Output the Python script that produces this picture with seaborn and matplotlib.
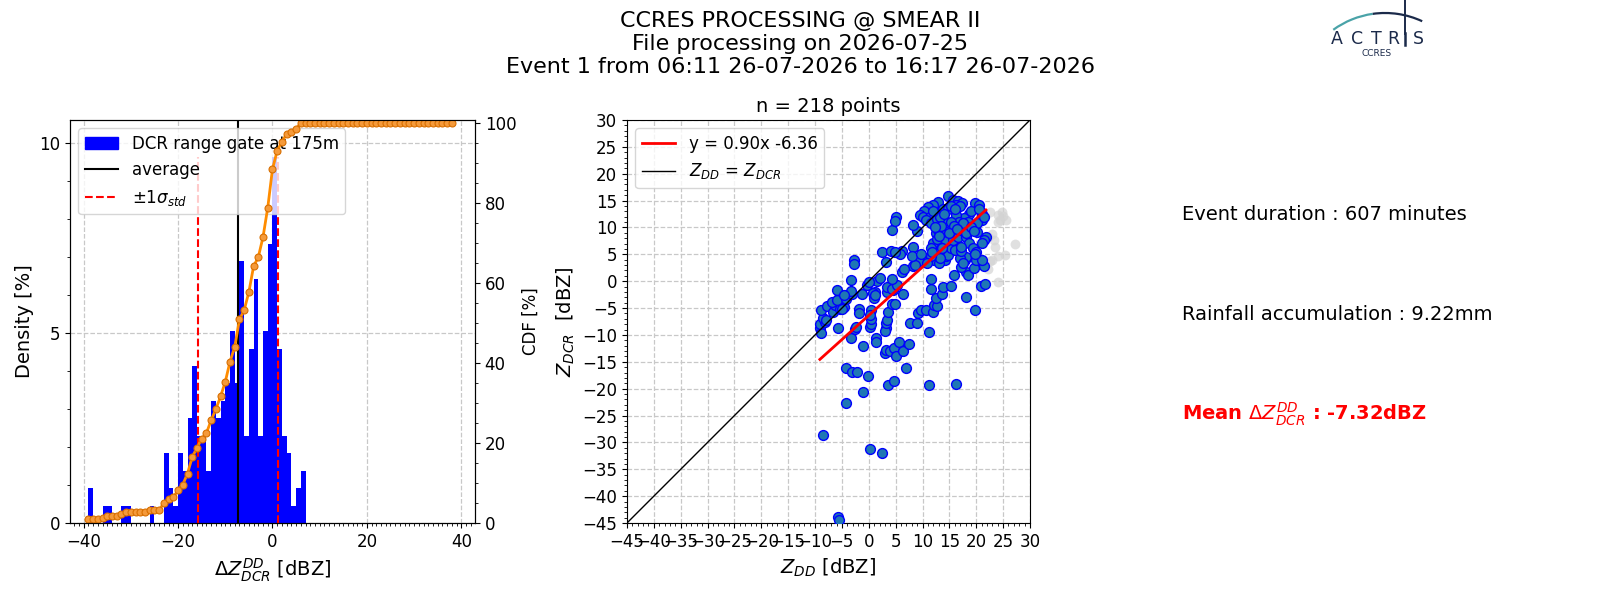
import numpy as np
import pandas as pd
import matplotlib
matplotlib.use("Agg")
import matplotlib.pyplot as plt
import seaborn as sns
from matplotlib.ticker import MultipleLocator
from matplotlib.patches import Patch, Arc
from matplotlib.lines import Line2D

# ---- histogram of delta Z (1 dBZ bins, left edges -39 .. 38) ----
bin_left = np.arange(-39, 39)
hist_counts = [2, 0, 0, 1, 1, 0, 0, 1, 1, 0, 0, 0, 0, 1, 0, 0, 4, 2, 1, 4,
               3, 6, 9, 5, 5, 3, 7, 6, 7, 8, 11, 8, 15, 5, 10, 14, 5, 11, 16, 21,
               10, 5, 4, 1, 2, 3] + [0] * 32
n_points = 218
mean_dz = -7.32
std_dz = 8.4

# ---- scatter Z_DD vs Z_DCR ----
zdd = [-8.5, -5.7, -5.5, 0.3, 2.5, -4.3, -1.1, -0.1, -4.3, -3.2, -2.2, 3.5, 4.6, 11.2, 16.3, 6.9,
       3.0, 3.2, 3.9, 4.7, 5.0, 5.6, 6.3, 7.5, -1.0, -3.4, 1.4, 1.3, -5.7, -9.0, -8.8, -2.6, -2.3,
       0.3, 3.2, 3.0, 11.2,
       -9.1, -8.1, -8.5, 0.5, 0.5, 3.2, 3.4, 0.5, 0.3, -1.8, -1.8, 3.6, 4.3, 7.6, 8.9, 9.2, 9.8,
       10.7, 11.9, 12.2, 12.7, 12.6, 19.7, -8.8, -7.8, -6.7, -6.3, -6.9, -5.5, -5.4, -4.7, -4.4,
       -8.0, -5.0, -5.9, -4.3, 0.9, 4.8, 18.1,
       13.7, -3.2, -1.3, 1.1, 4.5, 3.4, 6.3, -6.0, -3.3, -4.7, -0.4, 0.7, 11.5, 13.9, 15.3, 20.8,
       21.7, 3.3, 4.3, 5.2, 1.2,
       -3.4, 1.6, 0.0, 11.6, 15.9, 18.1, 18.4, 21.4, 19.6, -2.8, -2.8, 3.2, 8.2, 6.1, 6.6, 10.2,
       9.3, 2.1, 4.3, 12.2, 14.1, 14.4, 17.9, 18.1, 20.0, 21.1, 16.9, 17.2, 17.6, 14.7, 13.0,
       13.2, 11.6, 8.6, 10.9,
       2.4, 4.1, 6.1, 5.8, 8.2, 8.1, 9.7, 4.3, 9.0, 11.9, 11.6, 11.8, 12.6, 12.9, 12.7, 15.3,
       16.0, 17.2, 14.4, 15.6, 16.6, 18.1, 18.6, 19.4, 20.0, 21.8, 21.5, 21.1, 20.1, 14.4, 17.2,
       18.0, 19.7, 13.6, 17.2, 4.9,
       5.0, 4.8, 8.2, 14.7, 15.6, 16.6, 17.4, 16.3, 12.9, 11.9, 11.0, 10.2, 9.6, 10.1, 13.8,
       14.7, 15.3, 17.0, 19.7, 20.6, 21.1, 21.0, 20.2, 18.7, 17.7, 18.4, 16.3, 16.8, 17.5, 14.3,
       15.3, 15.8, 11.4, 10.7, 11.6, 12.7, 13.2, 13.5,
       12.0, 14.0, 16.0, 19.0, 20.5, 13.0, 15.0, 16.5, 19.0, 19.5, 12.3, 21.5]
zdcr = [-28.6, -43.9, -44.5, -31.2, -32.0, -22.7, -20.6, -17.6, -16.1, -16.9, -16.9, -19.3, -18.5,
        -19.3, -19.1, -16.1,
        -13.4, -12.8, -12.9, -12.5, -13.9, -11.3, -13.0, -11.7, -12.1, -10.6, -10.6, -11.3, -8.7,
        -8.8, -9.7, -8.9, -8.5, -8.5, -8.8, -9.2, -9.4,
        -7.9, -7.5, -6.9, -7.9, -7.1, -7.7, -7.2, -5.4, -6.3, -5.1, -5.9, -5.7, -4.3, -7.7, -7.7,
        -6.0, -5.4, -5.4, -5.7, -4.4, -4.6, -3.2, -5.4, -5.4, -4.6, -5.7, -4.4, -3.8, -3.2, -5.2,
        -4.8, -3.2, -7.2, -5.1, -3.5, -3.3, -3.2, -4.2, -3.0,
        -2.4, -2.3, -2.3, -2.0, -1.7, -2.1, -2.3, -1.6, -1.9, -2.6, -0.7, -2.2, -1.4, -1.1, -0.9,
        -0.8, -0.6, -1.0, -1.4, -0.7, -2.6,
        0.2, 0.1, -0.2, 0.4, 1.1, 1.7, 1.2, 2.8, 2.5, 4.0, 3.2, 3.5, 2.9, 1.8, 2.2, 4.3, 3.8, 0.6,
        0.4, 4.0, 4.0, 4.7, 4.0, 4.5, 4.0, 4.0, 4.3, 2.7, 3.3, 4.9, 3.3, 4.3, 4.6, 3.0, 3.3,
        5.4, 5.6, 5.7, 5.0, 6.3, 4.7, 5.1, 9.5, 9.4, 7.1, 6.1, 5.5, 9.0, 9.5, 7.8, 6.1, 5.8, 5.6,
        7.4, 7.7, 8.2, 8.2, 7.1, 6.1, 5.5, 8.3, 7.6, 7.1, 9.2, 9.5, 9.5, 8.9, 5.1, 6.1, 6.3, 5.4,
        12.0, 11.2, 10.5, 15.9, 15.2, 15.0, 14.6, 14.2, 14.8, 14.2, 13.8, 13.0, 12.3, 12.0, 13.4,
        13.4, 14.0, 14.0, 14.6, 14.2, 12.6, 11.3, 10.8, 12.6, 11.7, 11.1, 12.3, 11.1, 10.8, 11.1,
        11.1, 10.2, 12.0, 11.4, 10.9, 11.5, 12.0, 10.2,
        13.0, 12.5, 13.5, 13.0, 13.5, 8.5, 9.0, 9.8, 10.0, 9.3, 10.0, 12.0]

# points left out of the comparison (drawn in grey)
excl_zdd = [22.6, 24.0, 24.7, 25.0, 24.4, 25.5, 24.0, 23.3, 22.2, 22.9, 22.2, 23.0, 24.1, 25.3,
            27.3, 24.0, 22.5, 23.4]
excl_zdcr = [12.9, 12.3, 12.9, 12.2, 11.4, 11.4, 11.0, 7.7, 8.3, 8.8, 2.2, 4.0, 4.6, 4.8, 6.9,
             -0.1, 3.7, 6.4]

fit_slope = 0.90
fit_offset = -6.36

title_lines = ["CCRES PROCESSING @ SMEAR II",
               "File processing on 2026-07-25",
               "Event 1 from 06:11 26-07-2026 to 16:17 26-07-2026"]
event_minutes = 607
rain_mm = 9.22

density = np.array(hist_counts) / n_points * 100
cdf = np.cumsum(density)
df_hist = pd.DataFrame({"dz": bin_left + 0.5, "dens": density})
df_sc = pd.DataFrame({"zdd": zdd, "zdcr": zdcr})
df_ex = pd.DataFrame({"zdd": excl_zdd, "zdcr": excl_zdcr})

fig = plt.figure(figsize=(16, 6), dpi=100)
grid_kw = dict(ls="--", color="#c8c8c8", lw=0.9)

# ---------------- histogram + CDF ----------------
ax_h = fig.add_axes([0.04375, 0.1283, 0.2531, 0.6717])
sns.histplot(data=df_hist, x="dz", weights="dens", bins=len(bin_left),
             binrange=(bin_left[0], bin_left[-1] + 1), color="blue", alpha=1,
             linewidth=0, ax=ax_h)
ax_h.axvline(mean_dz, color="black", lw=1.5)
ax_h.vlines([mean_dz - std_dz, mean_dz + std_dz], 0, density.max(), colors="red",
            linestyles="--", lw=1.5)
ax_h.set_ylim(0, density.max() * 1.1)
ax_h.xaxis.set_major_locator(MultipleLocator(20))
ax_h.xaxis.set_minor_locator(MultipleLocator(1))
ax_h.yaxis.set_major_locator(MultipleLocator(5))
ax_h.yaxis.set_minor_locator(MultipleLocator(1))
ax_h.grid(True, **grid_kw)
ax_h.set_axisbelow(True)
ax_h.tick_params(labelsize=12)
ax_h.set_xlabel(r"$\Delta Z^{DD}_{DCR}$ [dBZ]", fontsize=14)
ax_h.set_ylabel("Density [%]", fontsize=14)
handles = [Patch(color="blue", label="DCR range gate at 175m"),
           Line2D([], [], color="black", lw=1.5, label="average"),
           Line2D([], [], color="red", ls="--", lw=1.5, label=r"$\pm1\sigma_{std}$")]
ax_h.legend(handles=handles, loc="upper left", fontsize=12)

ax_c = ax_h.twinx()
sns.lineplot(x=bin_left, y=cdf, ax=ax_c, color="darkorange", lw=2, marker="o",
             markersize=5, markerfacecolor="#f59a3a", markeredgecolor="#d86f00",
             markeredgewidth=0.8)
ax_c.set_ylim(0, 100.8)
ax_c.yaxis.set_major_locator(MultipleLocator(20))
ax_c.yaxis.set_minor_locator(MultipleLocator(5))
ax_c.tick_params(labelsize=12)
ax_c.set_ylabel("CDF [%]", fontsize=12)

# ---------------- scatter ----------------
ax_s = fig.add_axes([0.39125, 0.1283, 0.2531, 0.6717])
sns.scatterplot(data=df_ex, x="zdd", y="zdcr", color="lightgray", alpha=0.7, s=50,
                linewidth=0, ax=ax_s)
sns.scatterplot(data=df_sc, x="zdd", y="zdcr", color="#1f77b4", edgecolor="blue",
                linewidth=1, s=50, ax=ax_s, zorder=3)
fit_x = np.array([min(zdd), max(zdd)])
ax_s.plot(fit_x, fit_slope * fit_x + fit_offset, color="red", lw=2, zorder=4,
          label=f"y = {fit_slope:.2f}x {fit_offset:.2f}")
ax_s.plot([-45, 30], [-45, 30], color="black", lw=1, zorder=4,
          label=r"$Z_{DD}$ = $Z_{DCR}$")
ax_s.set_xlim(-45, 30)
ax_s.set_ylim(-45, 30)
ax_s.set_aspect("equal")
for axis in (ax_s.xaxis, ax_s.yaxis):
    axis.set_major_locator(MultipleLocator(5))
    axis.set_minor_locator(MultipleLocator(1))
ax_s.grid(True, **grid_kw)
ax_s.set_axisbelow(True)
ax_s.tick_params(labelsize=12)
ax_s.set_xlabel(r"$Z_{DD}$ [dBZ]", fontsize=14)
ax_s.set_ylabel(r"$Z_{DCR}$  [dBZ]", fontsize=14)
ax_s.set_title(f"n = {n_points} points", fontsize=14)
ax_s.legend(loc="upper left", fontsize=12)

# ---------------- texts ----------------
fig.suptitle("\n".join(title_lines), fontsize=16, y=0.982)
fig.text(0.739, 0.643, f"Event duration : {event_minutes} minutes", fontsize=14, va="center")
fig.text(0.739, 0.475, f"Rainfall accumulation : {rain_mm:.2f}mm", fontsize=14, va="center")
fig.text(0.739, 0.31, r"Mean $\Delta Z^{DD}_{DCR}$ : " + f"{mean_dz:.2f}dBZ",
         fontsize=14, va="center", color="red", fontweight="bold")

# small ACTRIS logo (axes in pixel units, y downwards)
ax_logo = fig.add_axes([1320 / 1600, 1 - 62 / 600, 110 / 1600, 62 / 600])
ax_logo.set_xlim(0, 110)
ax_logo.set_ylim(62, 0)
ax_logo.axis("off")
ax_logo.add_patch(Arc((65, 101), 176, 176, theta1=234, theta2=262, color="#4aa3a8", lw=1.6))
ax_logo.add_patch(Arc((65, 101), 176, 176, theta1=262, theta2=295, color="#1b2a4a", lw=1.6))
ax_logo.plot([85, 85], [0, 34], color="#1b2a4a", lw=1.4)
for letter, lx in zip("ACTRS", [17, 37, 56, 73, 98]):
    ax_logo.text(lx, 39.5, letter, fontsize=12.5, color="#1b2a4a", ha="center", va="center",
                 fontweight="medium")
ax_logo.plot([85, 85], [33, 45], color="#1b2a4a", lw=1.8)
ax_logo.text(57, 54, "CCRES", fontsize=6.5, color="#1b2a4a", ha="center", va="center")

fig.savefig("out.png", dpi=100)
